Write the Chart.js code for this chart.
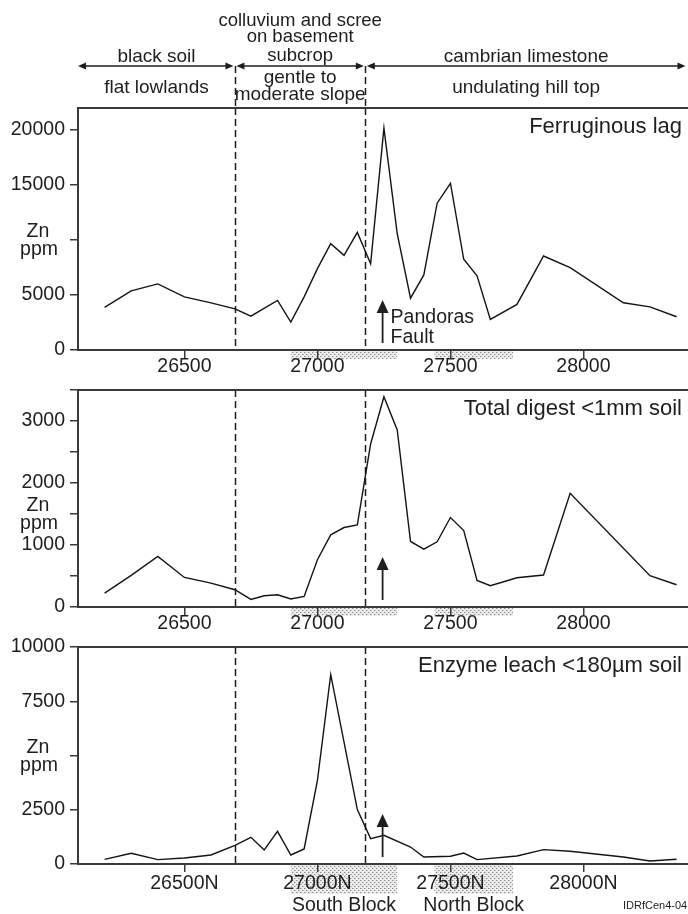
<!DOCTYPE html>
<html>
<head>
<meta charset="utf-8">
<script src="https://cdn.jsdelivr.net/npm/chart.js@4.4.0/dist/chart.umd.min.js"></script>
<style>
html,body{margin:0;padding:0;background:#fff;overflow:hidden;width:688px;height:914px;position:relative}
canvas{position:absolute;left:0;top:0}
</style>
</head>
<body>
<canvas id="c1" width="688" height="914"></canvas>
<canvas id="c2" width="688" height="914"></canvas>
<canvas id="c3" width="688" height="914"></canvas>
<script>
// ---------- DATA ----------
const lagN  = [26200,26300,26400,26500,26600,26690,26750,26850,26900,26950,27000,27050,27100,27150,27200,27250,27300,27350,27400,27450,27500,27550,27600,27650,27750,27850,27950,28150,28250,28350];
const lagZn = [3870,5375,6010,4830,4290,3745,3080,4500,2540,4830,7400,9665,8610,10690,7850,20175,10570,4710,6825,13350,15160,8245,6735,2780,4140,8545,7490,4290,3925,3020];

const digestN  = [26200,26300,26400,26500,26600,26690,26750,26800,26850,26900,26950,27000,27050,27100,27150,27200,27250,27300,27350,27400,27450,27500,27550,27600,27650,27750,27850,27950,28250,28350];
const digestZn = [225,509,815,477,386,279,123,182,198,129,171,762,1164,1282,1325,2629,3391,2855,1057,934,1052,1443,1234,429,343,472,515,1835,504,359];

const enzymeN  = [26200,26300,26400,26500,26600,26690,26750,26800,26850,26900,26950,27000,27050,27150,27200,27250,27350,27400,27500,27550,27600,27750,27850,27950,28150,28250,28350];
const enzymeZn = [216,493,203,276,415,861,1230,645,1507,415,691,3857,8727,2507,1170,1322,783,323,355,507,203,369,663,585,323,138,216];

const xTicks = [26500,27000,27500,28000];
const xTickLabels  = ['26500','27000','27500','28000'];
const xTickLabelsN = ['26500N','27000N','27500N','28000N'];

const lagYTicks = [0,5000,10000,15000,20000];
const lagYLabels = ['0','5000','','15000','20000'];
const digestYTicks = [0,500,1000,1500,2000,2500,3000,3500];
const digestYLabels = ['0','','1000','','2000','','3000',''];
const enzymeYTicks = [0,2500,5000,7500,10000];
const enzymeYLabels = ['0','2500','','7500','10000'];

const panelTitles = ['Ferruginous lag','Total digest <1mm soil','Enzyme leach <180µm soil'];
const unitLines = ['Zn','ppm'];
const boundaryN = [26690,27180];
const faultN = 27245;
const faultLines = ['Pandoras','Fault'];
const blockNames = ['South Block','North Block'];
const blockFrom = [26900,27440];
const blockTo   = [27300,27735];
const zoneTop = ['black soil',['colluvium and scree','on basement','subcrop'],'cambrian limestone'];
const zoneBottom = [['flat lowlands'],['gentle to','moderate slope'],['undulating hill top']];
const figId = 'IDRfCen4-04';

// ---------- STYLE ----------
const FONT = '"Liberation Sans", Arial, sans-serif';
const INK = '#1e1e1e';
const AXIS = '#3a3a3a';
Chart.defaults.font.family = FONT;
Chart.defaults.color = INK;

function stipplePattern(ctx){
  const t = document.createElement('canvas');
  t.width = 4; t.height = 4;
  const c = t.getContext('2d');
  c.fillStyle = '#ececec'; c.fillRect(0,0,4,4);
  c.fillStyle = '#8c8c8c';
  c.fillRect(0,0,1,1); c.fillRect(2,2,1,1);
  c.fillStyle = '#c4c4c4';
  c.fillRect(1,0,1,1); c.fillRect(3,2,1,1);
  return ctx.createPattern(t,'repeat');
}

function arrowHead(ctx, x, y, dir, len, half){
  // dir: 'up','left','right'
  ctx.beginPath();
  if (dir==='up'){ ctx.moveTo(x,y); ctx.lineTo(x-half,y+len); ctx.lineTo(x+half,y+len); }
  if (dir==='left'){ ctx.moveTo(x,y); ctx.lineTo(x+len,y-half); ctx.lineTo(x+len,y+half); }
  if (dir==='right'){ ctx.moveTo(x,y); ctx.lineTo(x-len,y-half); ctx.lineTo(x-len,y+half); }
  ctx.closePath(); ctx.fill();
}

function makePanel(id, idx, xs, ys, yMax, yTicks, yLabels, xLabels, top, bottom, xPad, stippleDepth, unitTick){
  const points = xs.map((x,i)=>({x:x, y:ys[i]}));
  const deco = {
    id: 'deco'+idx,
    beforeDraw(chart){
      const {ctx, chartArea:a, scales:{x}} = chart;
      ctx.save();
      ctx.fillStyle = stipplePattern(ctx);
      for (let i=0;i<blockFrom.length;i++){
        const x0 = x.getPixelForValue(blockFrom[i]), x1 = x.getPixelForValue(blockTo[i]);
        ctx.fillRect(x0, a.bottom+1, x1-x0, stippleDepth);
      }
      ctx.restore();
    },
    beforeDatasetsDraw(chart){
      const {ctx, chartArea:a, scales:{x}} = chart;
      ctx.save();
      ctx.strokeStyle = INK; ctx.lineWidth = 1.5; ctx.setLineDash([7,4]);
      boundaryN.forEach(b=>{
        const px = Math.round(x.getPixelForValue(b))+0.5;
        ctx.beginPath(); ctx.moveTo(px, a.top); ctx.lineTo(px, a.bottom); ctx.stroke();
        if (idx===0){ ctx.beginPath(); ctx.moveTo(px, 66); ctx.lineTo(px, a.top); ctx.stroke(); }
      });
      ctx.restore();
    },
    afterDraw(chart){
      const {ctx, chartArea:a, scales:{x,y}} = chart;
      ctx.save();
      // top border
      ctx.strokeStyle = AXIS; ctx.lineWidth = 2;
      ctx.beginPath(); ctx.moveTo(a.left-1, a.top); ctx.lineTo(a.right, a.top); ctx.stroke();
      // fault arrow
      const fx = x.getPixelForValue(faultN);
      ctx.strokeStyle = INK; ctx.fillStyle = INK; ctx.lineWidth = 1.8;
      ctx.beginPath(); ctx.moveTo(fx, a.bottom-7); ctx.lineTo(fx, a.bottom-40); ctx.stroke();
      arrowHead(ctx, fx, a.bottom-50, 'up', 13, 6);
      // title
      ctx.font = '22px '+FONT; ctx.textAlign = 'right'; ctx.textBaseline = 'alphabetic';
      ctx.fillText(panelTitles[idx], 682, a.top+25);
      // unit label
      ctx.font = '19.5px '+FONT; ctx.textAlign = 'center';
      const uy = y.getPixelForValue(unitTick);
      ctx.fillText(unitLines[0], 38, uy-3);
      ctx.fillText(unitLines[1], 39, uy+15);
      if (idx===0){
        ctx.textAlign = 'left';
        ctx.fillText(faultLines[0], fx+8, a.bottom-27);
        ctx.fillText(faultLines[1], fx+8, a.bottom-7.5);
        // header
        const segs = [a.left, x.getPixelForValue(boundaryN[0]), x.getPixelForValue(boundaryN[1]), a.right-1];
        ctx.lineWidth = 1.5;
        for (let i=0;i<3;i++){
          const s0 = segs[i]+ (i===0?0:1.5), s1 = segs[i+1] - 1.5;
          ctx.beginPath(); ctx.moveTo(s0+4, 66); ctx.lineTo(s1-4, 66); ctx.stroke();
          arrowHead(ctx, s0, 66, 'left', 8, 3.5);
          arrowHead(ctx, s1, 66, 'right', 8, 3.5);
          const cx = (segs[i]+segs[i+1])/2;
          ctx.textAlign = 'center';
          if (Array.isArray(zoneTop[i])){
            ctx.font = '18.5px '+FONT;
            const bl = [26, 42, 61];
            zoneTop[i].forEach((t,k)=>ctx.fillText(t, cx, bl[k]));
          } else {
            ctx.font = '19px '+FONT;
            ctx.fillText(zoneTop[i], cx, 61.5);
          }
          ctx.font = '19px '+FONT;
          if (zoneBottom[i].length===2){
            ctx.fillText(zoneBottom[i][0], cx, 83);
            ctx.fillText(zoneBottom[i][1], cx, 100);
          } else {
            ctx.fillText(zoneBottom[i][0], cx, 93);
          }
        }
      }
      if (idx===2){
        ctx.font = '19.5px '+FONT; ctx.textAlign = 'center';
        for (let i=0;i<blockNames.length;i++){
          const cx = (x.getPixelForValue(blockFrom[i]) + x.getPixelForValue(blockTo[i]))/2;
          ctx.fillText(blockNames[i], cx, 911);
        }
        ctx.font = '11px '+FONT; ctx.textAlign = 'left';
        ctx.fillText(figId, 623, 909);
      }
      ctx.restore();
    }
  };

  return new Chart(document.getElementById(id), {
    type: 'line',
    data: { datasets: [{ data: points, borderColor: '#141414', borderWidth: 1.4, pointRadius: 0, tension: 0, fill: false }] },
    options: {
      responsive: false, animation: false, devicePixelRatio: 1,
      layout: { padding: { top: top, bottom: 914 - bottom - 40, left: 0, right: 0 } },
      plugins: { legend: { display: false }, tooltip: { enabled: false } },
      scales: {
        x: {
          type: 'linear', min: 26100, max: 28393,
          afterBuildTicks: s => { s.ticks = xTicks.map(v=>({value:v})); },
          afterFit: s => { s.height = 40; s.paddingLeft = 0; s.paddingRight = 0; s.paddingTop = 0; s.paddingBottom = 0; },
          ticks: { autoSkip: false, maxRotation: 0, padding: xPad, color: INK, font: { size: 19.5 },
                   callback: v => xLabels[xTicks.indexOf(v)] },
          grid: { drawOnChartArea: false, drawTicks: true, tickLength: 8, color: AXIS, lineWidth: 1.5 },
          border: { display: true, color: AXIS, width: 2 }
        },
        y: {
          type: 'linear', min: 0, max: yMax,
          afterBuildTicks: s => { s.ticks = yTicks.map(v=>({value:v})); },
          afterFit: s => { s.width = 78; s.paddingLeft = 0; s.paddingRight = 0; s.paddingTop = 0; s.paddingBottom = 0; },
          ticks: { autoSkip: false, padding: 5, color: INK, font: { size: 19.5 },
                   callback: v => yLabels[yTicks.indexOf(v)] },
          grid: { drawOnChartArea: false, drawTicks: true, tickLength: 8, color: AXIS, lineWidth: 1.5 },
          border: { display: true, color: AXIS, width: 2 }
        }
      }
    },
    plugins: [deco]
  });
}

makePanel('c1', 0, lagN, lagZn, 22000, lagYTicks, lagYLabels, xTickLabels, 108, 350, -3, 8, 10000);
makePanel('c2', 1, digestN, digestZn, 3500, digestYTicks, digestYLabels, xTickLabels, 390, 607, -3, 8, 1500);
makePanel('c3', 2, enzymeN, enzymeZn, 10000, enzymeYTicks, enzymeYLabels, xTickLabelsN, 647, 864, 0, 29, 5000);
</script>
</body>
</html>
